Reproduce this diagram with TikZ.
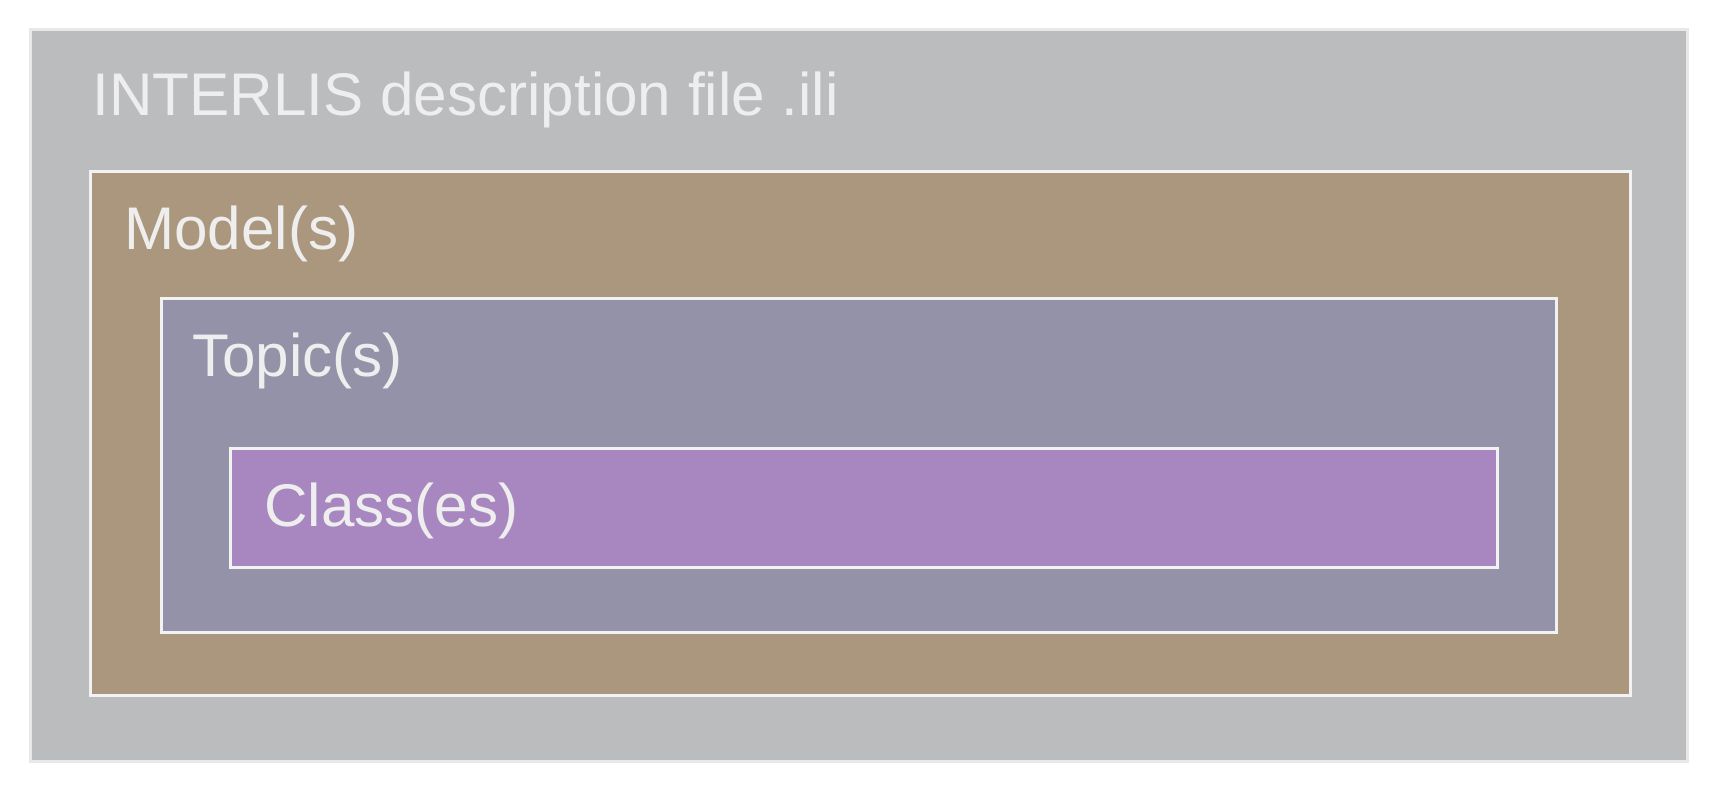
\documentclass[tikz,border=0pt]{standalone}
\usepackage{fontspec}
\setmainfont{Liberation Sans}
\begin{document}
\definecolor{filebg}{HTML}{BBBCBE}
\definecolor{fileedge}{HTML}{E8E8E8}
\definecolor{modelbg}{HTML}{AA977D}
\definecolor{topicbg}{HTML}{9392A8}
\definecolor{classbg}{HTML}{A887C0}
\definecolor{edgewhite}{HTML}{F2F2F2}
\definecolor{labeltext}{HTML}{EEEEEE}
\begin{tikzpicture}[x=1pt,y=-1pt,
  level/.style={draw=edgewhite, line width=3pt, inner sep=0pt, outer sep=0pt, anchor=north west},
  label/.style={text=labeltext, inner sep=0pt, anchor=base west, font=\fontsize{60.2}{72}\selectfont}]
  \useasboundingbox (0,0) rectangle (1717,792);
  \fill[white] (0,0) rectangle (1717,792);
  % nested containers
  \node[level, draw=fileedge, fill=filebg, minimum width=1657pt, minimum height=731pt] (file) at (30,30) {};
  \node[level, fill=modelbg, minimum width=1540pt, minimum height=524pt] (model) at (90,171) {};
  \node[level, fill=topicbg, minimum width=1395pt, minimum height=334pt] (topic) at (161,298) {};
  \node[level, fill=classbg, minimum width=1267pt, minimum height=119pt] (class) at (230,448) {};
  % captions
  \node[label] (filelabel) at (92.5,115) {INTERLIS description file .ili};
  \node[label] (modellabel) at (124,249) {Model(s)};
  \node[label] (topiclabel) at (192,376) {Topic(s)};
  \node[label] (classlabel) at (264,526) {Class(es)};
\end{tikzpicture}
\end{document}
